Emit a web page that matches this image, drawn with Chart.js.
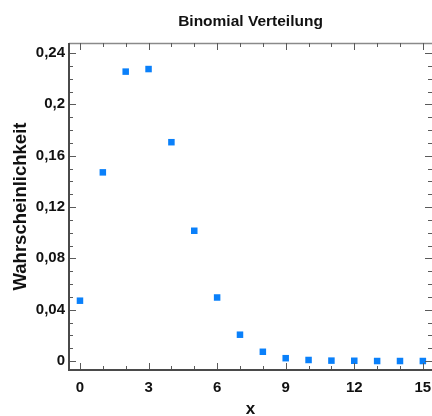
<!DOCTYPE html>
<html>
<head>
<meta charset="utf-8">
<script src="https://cdn.jsdelivr.net/npm/chart.js@4/dist/chart.umd.min.js"></script>
<style>
  html, body { margin: 0; padding: 0; background: #ffffff; }
  #wrap { width: 432px; height: 416px; position: relative; }
</style>
</head>
<body>
<div id="wrap"><canvas id="c" width="432" height="416"></canvas></div>
<script>
// ---- data ----
const chartTitle = 'Binomial Verteilung';
const xAxisTitle = 'x';
const yAxisTitle = 'Wahrscheinlichkeit';
const xValues = [0, 1, 2, 3, 4, 5, 6, 7, 8, 9, 10, 11, 12, 13, 14, 15];
const probabilities = [0.047, 0.147, 0.2255, 0.2275, 0.1705, 0.1015, 0.0495, 0.0205, 0.0072, 0.0022, 0.0008, 0.0003, 0.0002, 0, 0, 0];
const xTicks = [0, 3, 6, 9, 12, 15];
const xTickLabels = ['0', '3', '6', '9', '12', '15'];
const yTicks = [0, 0.04, 0.08, 0.12, 0.16, 0.2, 0.24];
const yTickLabels = ['0', '0,04', '0,08', '0,12', '0,16', '0,2', '0,24'];
const xMinorStep = 1;
const yMinorStep = 0.01;

const points = xValues.map((x, i) => ({ x: x, y: probabilities[i] }));
const FONT = "'Liberation Sans', Arial, sans-serif";

const framePlugin = {
  id: 'frame',
  afterDraw(chart) {
    const ctx = chart.ctx;
    const a = chart.chartArea;
    const xs = chart.scales.x, ys = chart.scales.y;
    ctx.save();
    // top border
    ctx.strokeStyle = '#8a8a8a';
    ctx.lineWidth = 1.5;
    ctx.beginPath();
    ctx.moveTo(a.left, a.top + 0.5); ctx.lineTo(a.right, a.top + 0.5);
    ctx.stroke();
    // ticks
    ctx.strokeStyle = '#5a5a5a';
    ctx.lineWidth = 1;
    const tick = (x1, y1, x2, y2) => { ctx.beginPath(); ctx.moveTo(x1, y1); ctx.lineTo(x2, y2); ctx.stroke(); };
    // x ticks (bottom & top)
    for (let v = Math.ceil(xs.min); v <= xs.max; v += xMinorStep) {
      const px = Math.round(xs.getPixelForValue(v)) + 0.5;
      const major = xTicks.includes(v);
      const len = major ? 7 : 4;
      tick(px, a.bottom, px, a.bottom - len);
      tick(px, a.top, px, a.top + len);
    }
    // y ticks (left & right)
    for (let k = 0; k * yMinorStep <= ys.max + 1e-9; k++) {
      const v = +(k * yMinorStep).toFixed(4);
      const py = Math.round(ys.getPixelForValue(v)) + 0.5;
      const major = yTicks.some(t => Math.abs(t - v) < 1e-9);
      const len = major ? 7 : 4;
      tick(a.left, py, a.left + len, py);
      tick(a.right, py, a.right - len, py);
    }
    // left and bottom axis lines
    ctx.strokeStyle = '#4a4a4a';
    ctx.lineWidth = 2;
    ctx.beginPath();
    ctx.moveTo(a.left, a.top); ctx.lineTo(a.left, a.bottom); ctx.lineTo(a.right, a.bottom);
    ctx.stroke();
    // title centered over plot area
    ctx.fillStyle = '#111111';
    ctx.font = 'bold 15.5px ' + FONT;
    ctx.textAlign = 'center';
    ctx.textBaseline = 'middle';
    ctx.fillText(chartTitle, (a.left + a.right) / 2, 22);
    ctx.restore();
  }
};

new Chart(document.getElementById('c'), {
  type: 'scatter',
  data: {
    datasets: [{
      data: points,
      pointStyle: 'rect',
      pointRadius: 4.6,
      pointHoverRadius: 4.6,
      pointBackgroundColor: '#0a80fa',
      pointBorderWidth: 0,
      borderWidth: 0,
      clip: false
    }]
  },
  options: {
    responsive: false,
    animation: false,
    events: [],
    layout: { autoPadding: false, padding: { top: 43, right: 0, left: 0, bottom: 0 } },
    plugins: { legend: { display: false }, tooltip: { enabled: false }, title: { display: false } },
    scales: {
      x: {
        type: 'linear',
        min: -0.48,
        max: 15.4,
        afterBuildTicks(scale) { scale.ticks = xTicks.map(v => ({ value: v })); },
        afterFit(scale) { scale.height = 46; scale.paddingLeft = 0; scale.paddingRight = 0; },
        ticks: {
          callback: (v) => { const i = xTicks.indexOf(v); return i >= 0 ? xTickLabels[i] : ''; },
          font: { family: FONT, size: 15, weight: 'bold' },
          color: '#111111',
          padding: 9,
          maxRotation: 0,
          autoSkip: false
        },
        grid: { display: false, drawTicks: false },
        border: { display: false },
        title: {
          display: true,
          text: xAxisTitle,
          font: { family: FONT, size: 17, weight: 'bold' },
          color: '#111111',
          padding: { top: 0, bottom: -4 }
        }
      },
      y: {
        type: 'linear',
        min: -0.007,
        max: 0.2478,
        afterBuildTicks(scale) { scale.ticks = yTicks.map(v => ({ value: v })); },
        afterFit(scale) { scale.width = 69; scale.paddingTop = 0; scale.paddingBottom = 0; },
        ticks: {
          callback: (v) => { const i = yTicks.findIndex(t => Math.abs(t - v) < 1e-9); return i >= 0 ? yTickLabels[i] : ''; },
          font: { family: FONT, size: 15, weight: 'bold' },
          color: '#111111',
          padding: 4,
          autoSkip: false
        },
        grid: { display: false, drawTicks: false },
        border: { display: false },
        title: {
          display: true,
          text: yAxisTitle,
          font: { family: FONT, size: 18.5, weight: 'bold' },
          color: '#111111',
          padding: { top: 10, bottom: 0 }
        }
      }
    }
  },
  plugins: [framePlugin]
});
</script>
</body>
</html>
